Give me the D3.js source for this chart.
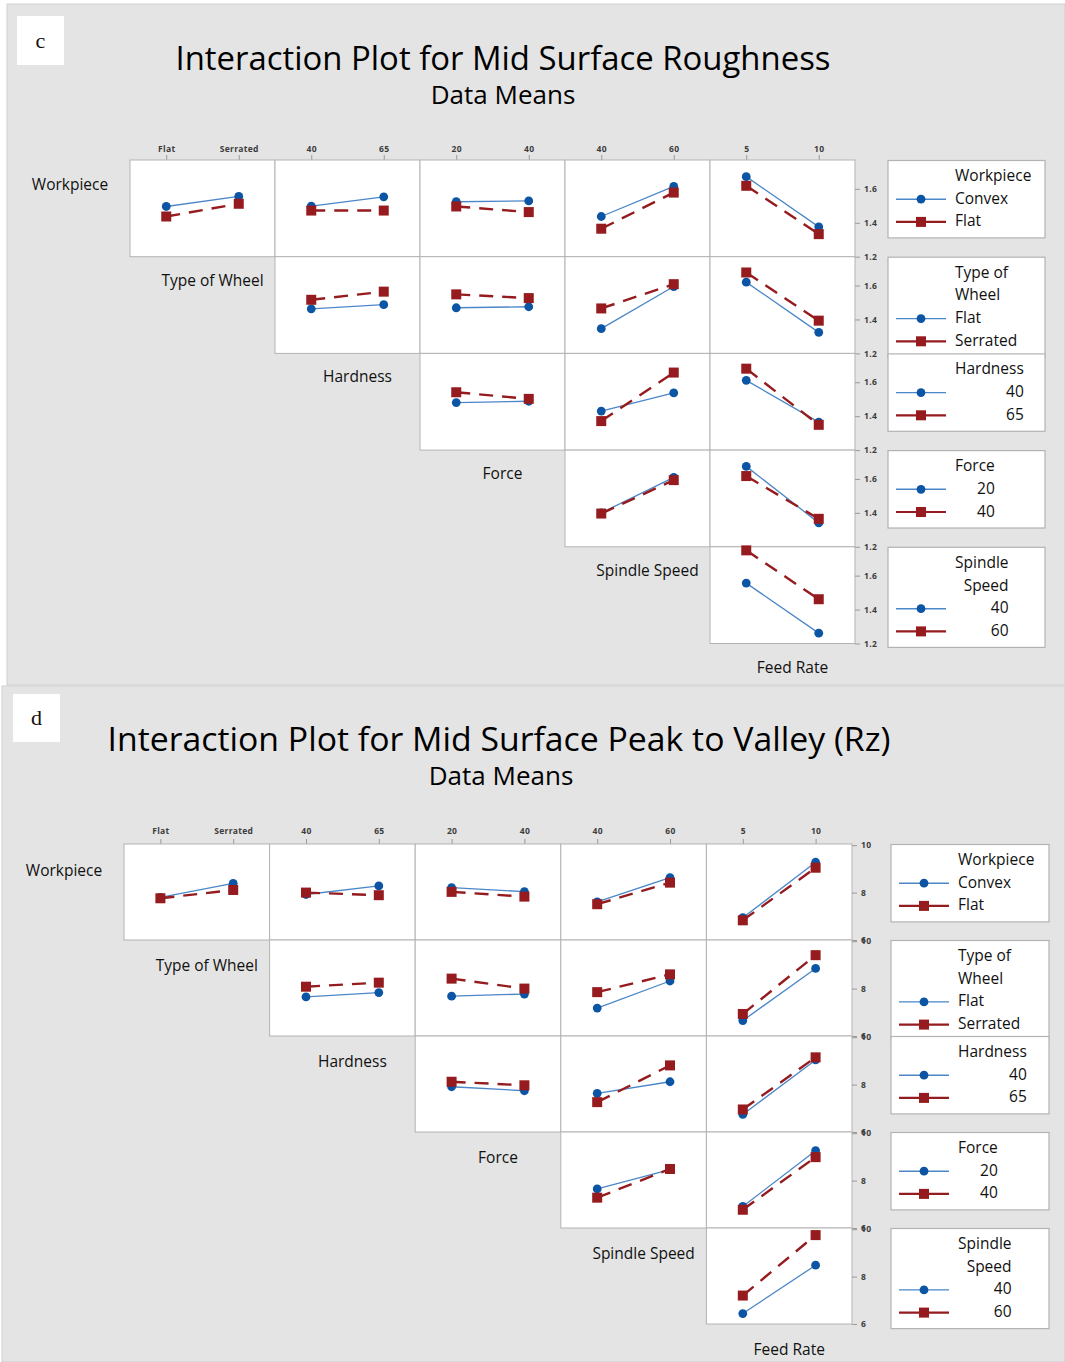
<!DOCTYPE html>
<html>
<head>
<meta http-equiv="Content-Type" content="text/html;charset=utf-8"/>
<script src="https://d3js.org/d3.v7.min.js"></script>
<style type="text/css">
body { margin: 0; background: #fff; }
svg text { font-family: "Open Sans", "Noto Sans", sans-serif; fill: #111; }
.axis text { font-size: 8.5px; font-weight: 700; fill: #3c3c3c; letter-spacing: 0.3px; }
.axis line { stroke: #9a9a9a; }
.axis path { display: none; }
.cell { fill: #fff; stroke: #b3b3b3; stroke-width: 1; }
.legbox { fill: #fff; stroke: #b3b3b3; stroke-width: 1.2; }
</style>
</head>
<body>
<script>
var width = 1065, height = 1362;

// factor names and their two levels (x axis order)
var factors = ["Workpiece", "Type of Wheel", "Hardness", "Force", "Spindle Speed", "Feed Rate"];
var levels = [["Convex", "Flat"], ["Flat", "Serrated"], ["40", "65"], ["20", "40"], ["40", "60"], ["5", "10"]];
var legendTitles = [["Workpiece"], ["Type of", "Wheel"], ["Hardness"], ["Force"], ["Spindle", "Speed"]];
var numericLevels = [false, false, true, true, true];

var raTicks = [1.2, 1.4, 1.6];
var rzTicks = [6, 8, 10];

// Mid surface roughness means. One entry per plot in the row:
// [first level of row factor at the 2 x levels], [second level ...]
var raWorkpiece = [[[1.496, 1.555], [1.437, 1.512]], [[1.498, 1.553], [1.472, 1.472]], [[1.524, 1.529], [1.496, 1.463]], [[1.437, 1.614], [1.365, 1.578]], [[1.672, 1.376], [1.618, 1.333]]];
var raWheel = [[[1.463, 1.487], [1.516, 1.564]], [[1.469, 1.475], [1.548, 1.526]], [[1.346, 1.594], [1.465, 1.608]], [[1.620, 1.324], [1.677, 1.393]]];
var raHardness = [[[1.480, 1.488], [1.541, 1.502]], [[1.430, 1.537], [1.371, 1.657]], [[1.611, 1.365], [1.680, 1.349]]];
var raForce = [[[1.400, 1.609], [1.396, 1.593]], [[1.674, 1.341], [1.617, 1.365]]];
var raSpindle = [[[1.556, 1.261], [1.749, 1.461]]];

// Mid surface peak to valley (Rz) means
var rzWorkpiece = [[[7.80, 8.39], [7.76, 8.11]], [[7.92, 8.28], [8.00, 7.89]], [[8.21, 8.04], [8.03, 7.83]], [[7.61, 8.63], [7.51, 8.42]], [[6.94, 9.28], [6.83, 9.05]]];
var rzWheel = [[[7.65, 7.83], [8.08, 8.25]], [[7.68, 7.77], [8.42, 8.00]], [[7.18, 8.32], [7.85, 8.60]], [[6.65, 8.85], [6.93, 9.41]]];
var rzHardness = [[[7.91, 7.74], [8.12, 7.97]], [[7.63, 8.12], [7.26, 8.81]], [[6.74, 9.04], [6.95, 9.15]]];
var rzForce = [[[7.65, 8.46], [7.28, 8.49]], [[6.91, 9.26], [6.77, 8.99]]];
var rzSpindle = [[[6.44, 8.48], [7.20, 9.75]]];

var blueMark = "#0b55a4", blueLine = "#4b86c8", red = "#951b1e";

var panels = [
    {tag: "c", title: "Interaction Plot for Mid Surface Roughness", titleW: 655,
     bg: [7, 4, 1058, 681], box: [17, 16, 47, 49], titleX: 503, titleY: 70, subX: 503, subY: 104,
     x0: 130, x1: 855, y0: 160, y1: 643.5, legX: 888, legW: 157, topPad: 3, labDy: 0,
     domain: [1.2, 1.77], ticks: raTicks,
     rows: [raWorkpiece, raWheel, raHardness, raForce, raSpindle]},
    {tag: "d", title: "Interaction Plot for Mid Surface Peak to Valley (Rz)", titleW: 783,
     bg: [2, 686, 1063, 676], box: [13, 694, 47, 48], titleX: 499, titleY: 751, subX: 501, subY: 785,
     x0: 124, x1: 852, y0: 844, y1: 1324, legX: 891, legW: 158, topPad: 5.5, labDy: 2,
     domain: [6, 10.05], ticks: rzTicks,
     rows: [rzWorkpiece, rzWheel, rzHardness, rzForce, rzSpindle]}
];

var svg = d3.select("body").append("svg")
    .attr("width", width)
    .attr("height", height);

panels.forEach(drawPanel);

function drawPanel(p) {
    var g = svg.append("g");
    var colW = (p.x1 - p.x0) / 5,
        rowH = (p.y1 - p.y0) / 5;

    g.append("rect")
     .attr("x", p.bg[0]).attr("y", p.bg[1])
     .attr("width", p.bg[2]).attr("height", p.bg[3])
     .style("fill", "#e4e4e4")
     .style("stroke", "#cfcfcf");

    g.append("rect")
     .attr("x", p.box[0]).attr("y", p.box[1])
     .attr("width", p.box[2]).attr("height", p.box[3])
     .style("fill", "#fff");
    g.append("text")
     .attr("x", p.box[0] + p.box[2] / 2).attr("y", p.box[1] + p.box[3] / 2 + 7)
     .attr("text-anchor", "middle")
     .style("font-family", "'Liberation Serif', serif")
     .style("font-size", "22px")
     .text(p.tag);

    g.append("text")
     .attr("x", p.titleX).attr("y", p.titleY)
     .attr("text-anchor", "middle")
     .attr("textLength", p.titleW)
     .attr("lengthAdjust", "spacingAndGlyphs")
     .style("font-size", "33px")
     .style("fill", "#000")
     .text(p.title);
    g.append("text")
     .attr("x", p.subX).attr("y", p.subY)
     .attr("text-anchor", "middle")
     .style("font-size", "26px")
     .style("fill", "#000")
     .text("Data Means");

    var x = d3.scalePoint().domain([0, 1]).range([0, colW]).padding(0.5);
    var y = d3.scaleLinear().domain(p.domain).range([rowH, 0]);

    // top axes with the levels of each x factor
    for (var c = 0; c < 5; c++) {
        var ax = d3.scalePoint().domain(levels[c + 1])
                   .range([p.x0 + c * colW, p.x0 + (c + 1) * colW]).padding(0.5);
        g.append("g")
         .attr("class", "axis")
         .attr("transform", "translate(0," + p.y0 + ")")
         .call(d3.axisTop(ax).tickSize(5).tickPadding(p.topPad));
    }

    p.rows.forEach(function(row, r) {
        var top = p.y0 + r * rowH;

        row.forEach(function(cell, k) {
            var c = r + k;
            var cg = g.append("g")
                      .attr("transform", "translate(" + (p.x0 + c * colW) + "," + top + ")");
            cg.append("rect").attr("class", "cell")
              .attr("width", colW).attr("height", rowH);

            var line = d3.line()
                         .x(function(d, i) { return x(i); })
                         .y(function(d) { return y(d); });

            cg.append("path").datum(cell[0])
              .attr("d", line)
              .style("fill", "none").style("stroke", blueLine).style("stroke-width", 1.3);
            cg.selectAll(".dot").data(cell[0]).enter().append("circle")
              .attr("cx", function(d, i) { return x(i); })
              .attr("cy", function(d) { return y(d); })
              .attr("r", 4.4)
              .style("fill", blueMark);

            cg.append("path").datum(cell[1])
              .attr("d", line)
              .style("fill", "none").style("stroke", red).style("stroke-width", 2.4)
              .style("stroke-dasharray", "14,9");
            cg.selectAll(".sq").data(cell[1]).enter().append("rect")
              .attr("x", function(d, i) { return x(i) - 5; })
              .attr("y", function(d) { return y(d) - 5; })
              .attr("width", 10).attr("height", 10)
              .style("fill", red);
        });

        // right value axis
        g.append("g")
         .attr("class", "axis")
         .attr("transform", "translate(" + p.x1 + "," + top + ")")
         .call(d3.axisRight(y).tickValues(p.ticks).tickSize(5).tickPadding(4)
                 .tickFormat(function(d) { return d; }));

        drawLegend(g, p.legX, top + 0.5, p.legW, r);
    });

    // factor names on the diagonal
    g.append("text")
     .attr("x", p.x0 - 60).attr("y", p.y0 + 30 + p.labDy)
     .attr("text-anchor", "middle")
     .style("font-size", "15.5px")
     .text(factors[0]);
    for (var f = 1; f < 6; f++) {
        g.append("text")
         .attr("x", p.x0 + (f - 0.5) * colW + 10)
         .attr("y", p.y0 + f * rowH + 29 + p.labDy)
         .attr("text-anchor", "middle")
         .style("font-size", "15.5px")
         .text(factors[f]);
    }
}

function drawLegend(g, lx, ly, lw, r) {
    var titles = legendTitles[r],
        step = 22.7,
        first = 20.5,
        nLines = titles.length + 2,
        h = first + (nLines - 1) * step + 11.5,
        tx = lx + 67;

    var lg = g.append("g");
    lg.append("rect").attr("class", "legbox")
      .attr("x", lx).attr("y", ly).attr("width", lw).attr("height", h);

    var txt = [];
    titles.forEach(function(s, i) {
        txt.push(lg.append("text").attr("x", tx).attr("y", ly + first + i * step)
                   .style("font-size", "15.5px").text(s));
    });
    var maxW = d3.max(txt, function(t) { return t.node().getComputedTextLength(); });
    if (numericLevels[r]) {
        txt.forEach(function(t) { t.attr("x", tx + maxW).attr("text-anchor", "end"); });
    }

    levels[r].forEach(function(lev, i) {
        var yy = ly + first + (titles.length + i) * step;
        var my = yy - 4.5;
        var col = i === 0 ? blueLine : red;
        lg.append("line")
          .attr("x1", lx + 8).attr("x2", lx + 58).attr("y1", my).attr("y2", my)
          .style("stroke", col).style("stroke-width", i === 0 ? 1.4 : 2.2);
        if (i === 0) {
            lg.append("circle").attr("cx", lx + 33).attr("cy", my).attr("r", 4.4)
              .style("fill", blueMark);
        } else {
            lg.append("rect").attr("x", lx + 28).attr("y", my - 5)
              .attr("width", 10).attr("height", 10).style("fill", red);
        }
        lg.append("text")
          .attr("x", numericLevels[r] ? tx + maxW : tx)
          .attr("y", yy)
          .attr("text-anchor", numericLevels[r] ? "end" : "start")
          .style("font-size", "15.5px")
          .text(lev);
    });
}
</script>
</body>
</html>
